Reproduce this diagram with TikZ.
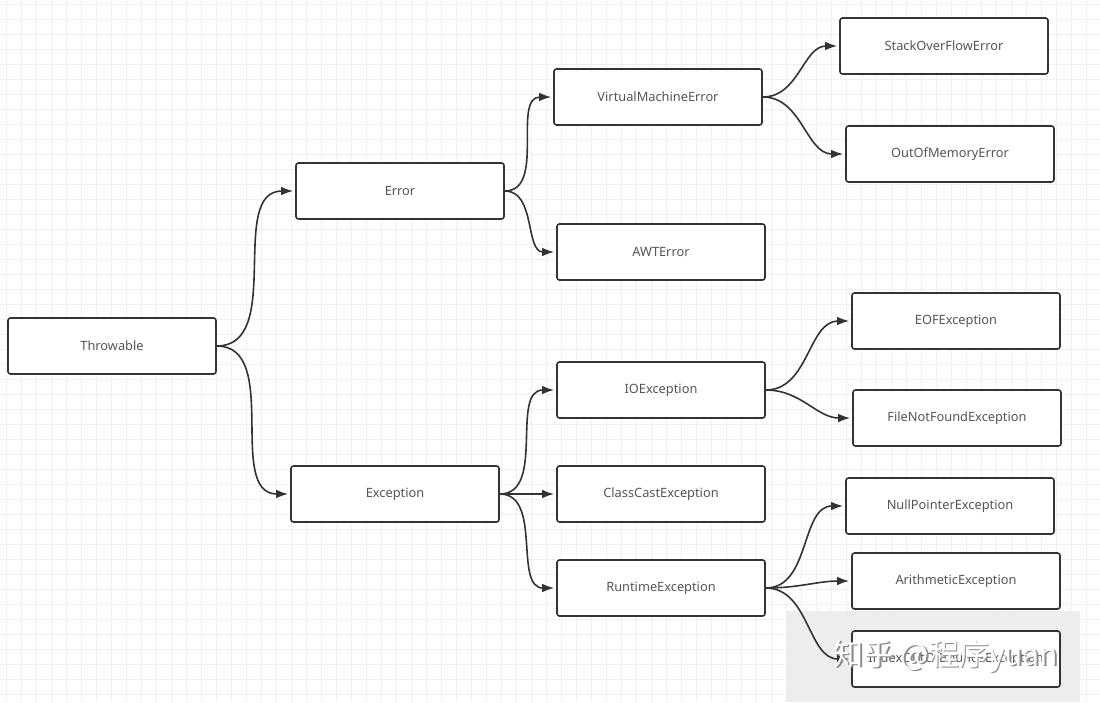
\documentclass[tikz,border=0pt]{standalone}
\usepackage{fontspec}
\setmainfont{Noto Sans}
\newfontfamily\cjkwm{Noto Sans CJK SC}
\usetikzlibrary{arrows.meta}
\definecolor{boxline}{HTML}{333333}
\definecolor{boxtext}{HTML}{555555}
\tikzset{
classbox/.style={rectangle, draw=boxline, fill=white, line width=1.6pt, rounded corners=2.5pt, minimum width=208pt, minimum height=56pt, inner sep=0pt, text=boxtext, font=\fontsize{12.8}{15}\selectfont},
inherit/.style={draw=boxline, line width=1.6pt, -{Latex[length=12pt,width=8.5pt]}, shorten >=2pt, out=0, in=180},
gridline/.style={draw=black!6, line width=0.7pt},
wmtext/.style={inner sep=0pt, font=\cjkwm\fontsize{30}{30}\selectfont},
}

\begin{document}
\begin{tikzpicture}[x=1pt,y=-1pt]
\useasboundingbox[fill=white] (0,0) rectangle (1100,702);
%grid
\foreach \gx in {6,21,...,1100} \draw[gridline] (\gx,0) -- (\gx,702);
\foreach \gy in {4,19,...,702} \draw[gridline] (0,\gy) -- (1100,\gy);
\fill[black!7] (786,611) rectangle (1080,702);
%classes
\node[classbox] at (112,346) (throwable) {Throwable};
\node[classbox] at (400,191) (error) {Error};
\node[classbox] at (395,494) (exception) {Exception};
\node[classbox] at (658,97) (vmerror) {VirtualMachineError};
\node[classbox] at (661,252) (awterror) {AWTError};
\node[classbox] at (661,390) (ioexc) {IOException};
\node[classbox] at (661,494) (castexc) {ClassCastException};
\node[classbox] at (661,588) (runexc) {RuntimeException};
\node[classbox] at (944,46) (stackerr) {StackOverFlowError};
\node[classbox] at (950,154) (memerr) {OutOfMemoryError};
\node[classbox] at (956,321) (eofexc) {EOFException};
\node[classbox] at (957,418) (fnfexc) {FileNotFoundException};
\node[classbox] at (950,506) (npexc) {NullPointerException};
\node[classbox] at (956,581) (arithexc) {ArithmeticException};
\node[classbox] at (956,659) (indexexc) {IndexOutOfBoundsException};
%edges
\draw[inherit] (throwable.east) to (error.west);
\draw[inherit] (throwable.east) to (exception.west);
\draw[inherit] (error.east) to (vmerror.west);
\draw[inherit] (error.east) to (awterror.west);
\draw[inherit] (vmerror.east) to (stackerr.west);
\draw[inherit] (vmerror.east) to (memerr.west);
\draw[inherit] (exception.east) to (ioexc.west);
\draw[inherit] (exception.east) to (castexc.west);
\draw[inherit] (exception.east) to (runexc.west);
\draw[inherit] (ioexc.east) to (eofexc.west);
\draw[inherit] (ioexc.east) to (fnfexc.west);
\draw[inherit] (runexc.east) to (npexc.west);
\draw[inherit] (runexc.east) to (arithexc.west);
\draw[inherit] (runexc.east) to (indexexc.west);
%watermark
\node[wmtext, text=black!45] at (947.5,657.5) (wmshadow) {知乎 @程序yuan};
\node[wmtext, text=white] at (946,656) (wm) {知乎 @程序yuan};
\end{tikzpicture}
\end{document}
